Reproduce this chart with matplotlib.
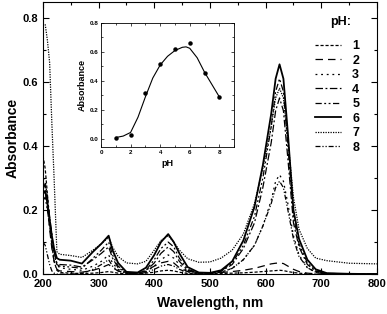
import matplotlib
matplotlib.use("Agg")
import matplotlib.pyplot as plt
from matplotlib.ticker import MultipleLocator

plt.rcParams['font.family'] = ['Liberation Sans', 'DejaVu Sans']
plt.rcParams['font.weight'] = 'bold'

nan = float('nan')

# wavelength grid (nm)
wavelength = [200, 204, 208, 212, 216, 220, 225, 230, 250, 270, 290, 305, 318, 325, 335, 350,
              370, 385, 400, 412, 425, 435, 445, 460, 480, 500, 520, 540, 560, 580, 595, 610,
              618, 625, 632, 640, 650, 660, 675, 690, 710, 750, 800]

ph1 = [.37, .33, .25, .16, .09, .04, .012, .005, .003, .002, .003, .005, .008, .006, .003, .001,
       .001, .003, .006, .010, .012, .010, .006, .002, .001, .001, .002, .003, .004, .006, .008, .010,
       .011, .012, .011, .008, .005, .003, .001, 0, 0, 0, 0]
ph2 = [.29, .27, .21, .14, .08, .04, .015, .010, .008, .006, .012, .020, .030, .020, .010, .003,
       .003, .010, .025, .035, .040, .035, .020, .008, .003, .003, .005, .008, .012, .018, .025, .032,
       .034, .035, .033, .025, .015, .008, .003, .001, 0, 0, 0]
ph3 = [.30, .29, .24, .18, .12, .07, .030, .020, .015, .012, .025, .040, .060, .035, .015, .003,
       .002, .008, .025, .045, .060, .050, .030, .010, .003, .002, .006, .018, .045, .09, .15, .23,
       .29, .31, .29, .22, .12, .06, .020, .006, .001, 0, 0]
ph4 = [.27, .28, .24, .18, .12, .07, .035, .030, .028, .022, .045, .065, .085, .050, .020, .004,
       .003, .010, .035, .065, .085, .070, .040, .012, .003, .003, .009, .030, .08, .16, .27, .41,
       .51, .55, .51, .36, .16, .085, .030, .009, .002, .001, 0]
ph5 = [.23, .24, .20, .15, .10, .06, .030, .025, .022, .018, .050, .075, .100, .060, .025, .005,
       .003, .012, .045, .080, .100, .085, .050, .015, .004, .003, .010, .035, .09, .18, .30, .46,
       .57, .61, .57, .40, .18, .095, .035, .010, .002, .001, 0]
ph6 = [.25, .26, .22, .17, .12, .08, .050, .045, .042, .033, .070, .095, .120, .075, .035, .007,
       .005, .020, .060, .100, .125, .100, .065, .022, .005, .004, .012, .040, .105, .21, .34, .50,
       .61, .655, .61, .44, .20, .11, .045, .015, .003, .001, 0]
ph7 = [nan, .78, .73, .66, .47, .30, .070, .062, .058, .052, .075, .095, .115, .085, .055, .035,
       .032, .040, .075, .105, .120, .100, .075, .048, .037, .038, .050, .075, .125, .22, .33, .46,
       .55, .58, .55, .42, .24, .14, .080, .050, .042, .034, .032]
ph8 = [.10, .09, .06, .03, .01, .003, 0, 0, 0, .002, .015, .030, .045, .025, .010, .002,
       .001, .005, .015, .025, .030, .025, .015, .005, .002, .002, .006, .018, .045, .09, .15, .22,
       .27, .29, .27, .20, .11, .055, .020, .006, .001, 0, 0]

series = [ph1, ph2, ph3, ph4, ph5, ph6, ph7, ph8]
labels = ['1', '2', '3', '4', '5', '6', '7', '8']
styles = [(0, (2.5, 1.5)), (0, (6, 4)), (0, (1.5, 3)), (0, (6, 2, 1.5, 2)),
          (0, (5, 2, 1.5, 2, 1.5, 2)), '-', (0, (1, 1)), (0, (4, 1.5, 1, 1.5, 1, 1.5))]
widths = [0.9, 0.9, 0.9, 0.9, 0.9, 1.3, 0.9, 0.9]

# inset: absorbance at ~625 nm vs pH
inset_ph = [1, 2, 3, 4, 5, 6, 7, 8]
inset_abs = [0.01, 0.03, 0.316, 0.517, 0.617, 0.665, 0.458, 0.286]
fit_ph = [1, 1.5, 2, 2.5, 3, 3.5, 4, 4.5, 5, 5.5, 5.75, 6, 6.5, 7, 7.5, 8]
fit_abs = [0.01, 0.02, 0.045, 0.15, 0.29, 0.42, 0.51, 0.57, 0.61, 0.632, 0.635, 0.625,
           0.56, 0.46, 0.375, 0.29]

fig = plt.figure(figsize=(3.87, 3.14), dpi=100)
ax = fig.add_axes([0.111, 0.127, 0.863, 0.867])

for y, lab, ls, lw in zip(series, labels, styles, widths):
    ax.plot(wavelength, y, color='black', linestyle=ls, linewidth=lw, label=lab)

ax.set_xlim(200, 800)
ax.set_ylim(0, 0.85)
ax.xaxis.set_major_locator(MultipleLocator(100))
ax.xaxis.set_minor_locator(MultipleLocator(50))
ax.yaxis.set_major_locator(MultipleLocator(0.2))
ax.yaxis.set_minor_locator(MultipleLocator(0.1))
ax.tick_params(which='both', direction='in', top=True, right=True, labelsize=8, width=0.8)
ax.tick_params(which='major', length=4)
ax.tick_params(which='minor', length=2.5)
ax.set_xlabel('Wavelength, nm', fontsize=10, fontweight='bold', labelpad=5)
ax.set_ylabel('Absorbance', fontsize=10, fontweight='bold', labelpad=2)

leg = ax.legend(loc='upper left', bbox_to_anchor=(0.78, 0.90),
                frameon=False, fontsize=9, handlelength=2.1, handletextpad=0.9,
                labelspacing=0.2)
ax.text(0.89, 0.925, 'pH:', transform=ax.transAxes, ha='center', va='center',
        fontsize=9, fontweight='bold')

# inset
ins = fig.add_axes([0.261, 0.532, 0.344, 0.395])
ins.plot(fit_ph, fit_abs, color='black', linewidth=0.8)
ins.plot(inset_ph, inset_abs, 'o', color='black', markersize=2.2)
ins.set_xlim(0, 9)
ins.set_ylim(-0.055, 0.8)
ins.xaxis.set_major_locator(MultipleLocator(2))
ins.xaxis.set_minor_locator(MultipleLocator(1))
ins.yaxis.set_major_locator(MultipleLocator(0.2))
ins.yaxis.set_minor_locator(MultipleLocator(0.1))
ins.tick_params(which='both', direction='in', top=True, right=True, labelsize=4.5,
                width=0.5, pad=2)
ins.tick_params(which='major', length=2.5)
ins.tick_params(which='minor', length=1.5)
for s in ins.spines.values():
    s.set_linewidth(0.6)
ins.set_xlabel('pH', fontsize=6.5, fontweight='bold', labelpad=3)
ins.set_ylabel('Absorbance', fontsize=6.5, fontweight='bold', labelpad=2)

fig.savefig('out.png', dpi=100)
